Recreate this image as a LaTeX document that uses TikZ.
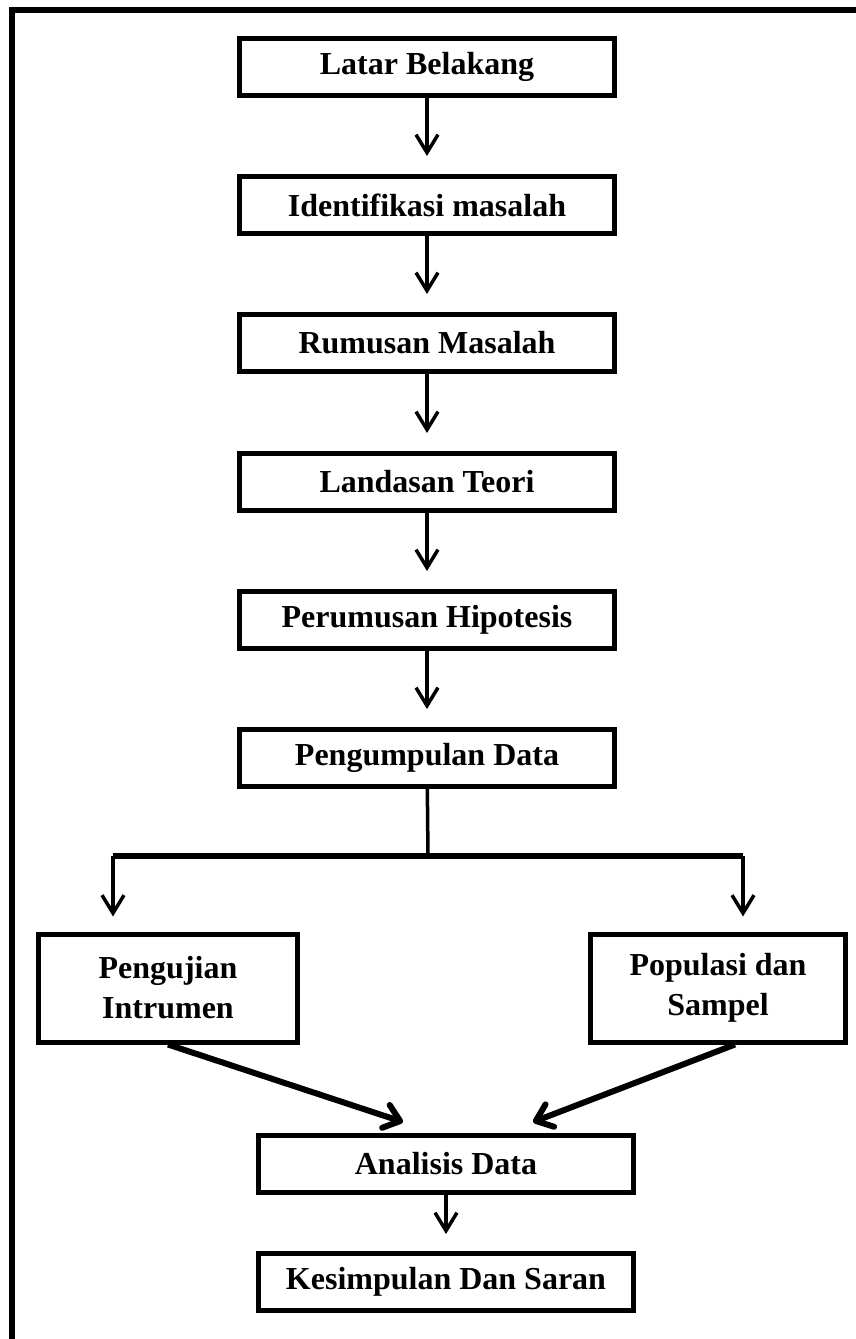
\documentclass[tikz,border=0pt]{standalone}
\usepackage{fontspec}
\setmainfont{Liberation Serif}
\usetikzlibrary{arrows.meta}
\usetikzlibrary{calc}
\tikzstyle{fchead}=[>/.tip={Straight Barb[length=18pt,width=22pt]}]
\tikzstyle{fcbhead}=[>/.tip={Straight Barb[round,length=15pt,width=24pt]}]
\tikzstyle{box} =[draw,line width=5pt,minimum width=375pt,minimum height=57pt,inner sep=0pt,font=\fontsize{32}{40}\selectfont\bfseries]
\tikzstyle{sbox}=[box,minimum width=259pt,minimum height=108pt,align=center]
\tikzstyle{fc} =[line width=3.5pt,fchead,->]
\tikzstyle{fcb}=[line width=6pt,fcbhead,->]
\begin{document}
\begin{tikzpicture}[x=1pt,y=-1pt]
	\useasboundingbox (0,0) rectangle (856,1339);
	\draw[line width=6pt] (12,1350) -- (12,10) -- (870,10);
	\node[box] (b1) at (427,67)  {Latar Belakang};
	\node[box] (b2) at (427,205) {Identifikasi masalah};
	\node[box] (b3) at (427,343) {Rumusan Masalah};
	\node[box] (b4) at (427,482) {Landasan Teori};
	\node[box] (b5) at (427,620) {Perumusan Hipotesis};
	\node[box] (b6) at (427,758) {Pengumpulan Data};
	\node[sbox] (uji) at (168,988) {Pengujian\\Intrumen};
	\node[sbox,minimum width=255pt] (pop) at (718,988) {Populasi dan\\Sampel};
	\node[box] (ana) at (446,1164) {Analisis Data};
	\node[box] (kes) at (446,1282) {Kesimpulan Dan Saran};
	\foreach \a/\b in {b1/b2,b2/b3,b3/b4,b4/b5,b5/b6}
	  \draw[fc,shorten >=18pt] (\a) -- (\b);
	\coordinate (split) at (428,856);
	\coordinate (sl) at (113,856);
	\coordinate (sr) at (743,856);
	\draw[line width=3.5pt] (b6) -- (split);
	\draw[line width=6pt] (sl) -- (sr);
	\draw[fc,shorten >=15pt] (sl) -- (uji.north -| sl);
	\draw[fc,shorten >=15pt] (sr) -- (pop.north -| sr);
	\coordinate (inl) at (403,1122);
	\coordinate (inr) at (533,1122);
	\draw[fcb] (uji.south) -- (inl);
	\draw[fcb] ([xshift=17pt]pop.south) -- (inr);
	\draw[fc,shorten >=17pt] (ana) -- (kes);
\end{tikzpicture}
\end{document}
